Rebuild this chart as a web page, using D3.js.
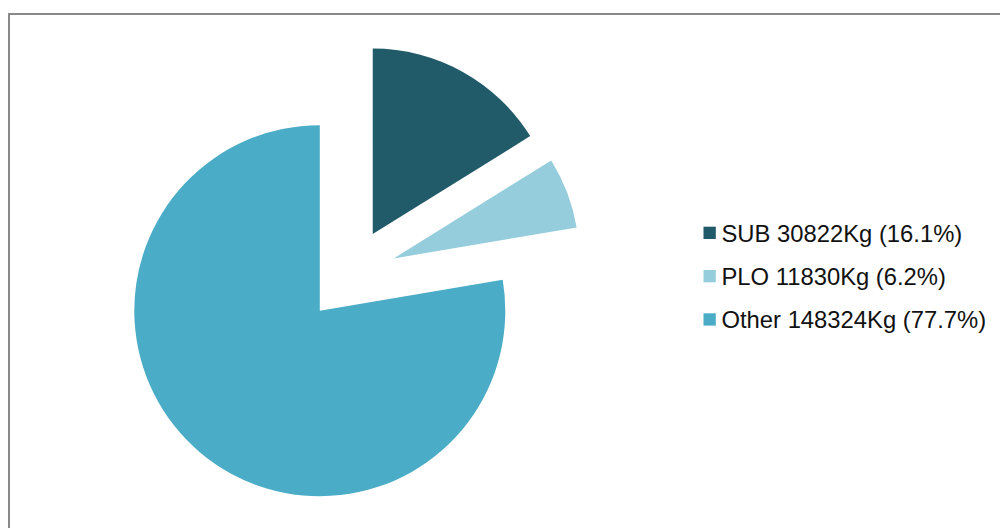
<!DOCTYPE html>
<html>
<head>
<meta charset="utf-8">
<script src="https://cdn.jsdelivr.net/npm/d3@7"></script>
<style>
  html, body { margin: 0; padding: 0; background: #ffffff; }
  svg { display: block; }
</style>
</head>
<body>
<svg id="chart" width="1000" height="528"></svg>
<script>
// Weight by category (kg)
const categories = ["SUB", "PLO", "Other"];
const weights = [30822, 11830, 148324];
const legendLabels = ["SUB 30822Kg (16.1%)", "PLO 11830Kg (6.2%)", "Other 148324Kg (77.7%)"];
const colors = ["#215a69", "#95cddc", "#4aacc6"];

const svg = d3.select("#chart");

// Chart frame (only top and left edges fall inside the view)
svg.append("rect")
  .attr("x", 9).attr("y", 14)
  .attr("width", 1000).attr("height", 530)
  .attr("fill", "none")
  .attr("stroke", "#898989")
  .attr("stroke-width", 2);

const cx = 350, cy = 275, radius = 185.5, explode = 46.8;

const data = categories.map((c, i) => ({ name: c, value: weights[i], color: colors[i], label: legendLabels[i] }));

const pie = d3.pie().value(d => d.value).sort(null).startAngle(0).endAngle(2 * Math.PI);
const arc = d3.arc().innerRadius(0).outerRadius(radius);

const g = svg.append("g").attr("transform", `translate(${cx},${cy})`);

g.selectAll("path.slice")
  .data(pie(data))
  .join("path")
  .attr("class", "slice")
  .attr("d", arc)
  .attr("fill", d => d.data.color)
  .attr("transform", d => {
    const a = (d.startAngle + d.endAngle) / 2;
    return `translate(${explode * Math.sin(a)},${-explode * Math.cos(a)})`;
  });

// Legend
const legendY = d3.scalePoint().domain(categories).range([241.7, 328.3]);
const legend = svg.append("g");
const items = legend.selectAll("g.item")
  .data(data)
  .join("g")
  .attr("class", "item")
  .attr("transform", d => `translate(0,${legendY(d.name)})`);

items.append("rect")
  .attr("x", 703.5).attr("y", -15)
  .attr("width", 12.3).attr("height", 12.3)
  .attr("fill", d => d.color);

items.append("text")
  .attr("x", 721.5).attr("y", 0)
  .attr("font-family", "Liberation Sans, Arial, sans-serif")
  .attr("font-size", "23.8px")
  .attr("fill", "#111111")
  .text(d => d.label);
</script>
</body>
</html>
